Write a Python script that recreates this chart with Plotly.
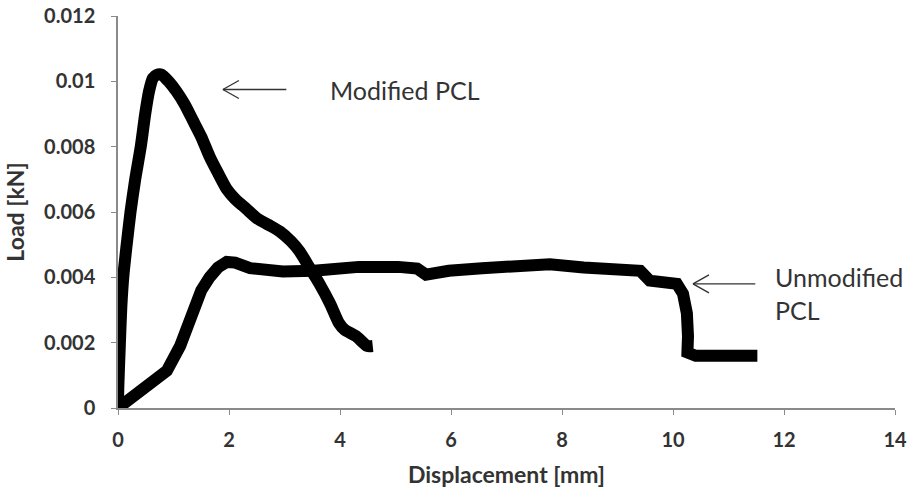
import plotly.graph_objects as go

# Modified PCL (displacement mm, load kN)
mod_x = [0.0, 0.005, 0.03, 0.06, 0.10, 0.15, 0.225, 0.31, 0.41, 0.49, 0.56, 0.63, 0.70, 0.79,
         0.91, 1.05, 1.20, 1.35, 1.50, 1.65, 1.80, 1.96, 2.11, 2.31, 2.51, 2.72, 2.92, 3.12,
         3.27, 3.45, 3.63, 3.82, 3.98, 4.08, 4.29, 4.49, 4.59]
mod_y = [0.0, 0.0006, 0.0018, 0.0031, 0.0041, 0.0049, 0.0060, 0.0070, 0.0080, 0.0090, 0.0097,
         0.0101, 0.0102, 0.0102, 0.0100, 0.0097, 0.0093, 0.0088, 0.0083, 0.0077, 0.0072,
         0.0067, 0.0064, 0.0061, 0.0058, 0.0056, 0.0054, 0.0051, 0.0048, 0.0043, 0.0038,
         0.0032, 0.0026, 0.0024, 0.0022, 0.0019, 0.0019]

# Unmodified PCL
unm_x = [0.0, 0.08, 0.45, 0.88, 1.12, 1.35, 1.50, 1.65, 1.80, 1.96, 2.11, 2.38, 2.97, 3.53,
         4.34, 5.05, 5.39, 5.55, 5.96, 6.56, 7.07, 7.78, 8.39, 9.10, 9.41, 9.58, 10.07, 10.18,
         10.25, 10.27, 10.26, 10.41, 11.12, 11.52]
unm_y = [0.0, 0.0001, 0.0005, 0.00114, 0.0019, 0.0031, 0.0036, 0.0040, 0.0043, 0.00447,
         0.00445, 0.00428, 0.00418, 0.0042, 0.00432, 0.00432, 0.00427, 0.00408, 0.0042,
         0.00428, 0.0043, 0.0044, 0.0043, 0.0042, 0.0042, 0.0039, 0.0038, 0.0035, 0.0029,
         0.0022, 0.0017, 0.0016, 0.00165, 0.0016]

x_ticks = [0, 2, 4, 6, 8, 10, 12, 14]
y_ticks = [0, 0.002, 0.004, 0.006, 0.008, 0.01, 0.012]
y_tick_labels = ["0", "0.002", "0.004", "0.006", "0.008", "0.01", "0.012"]

# annotation anchors (data units)
labels = ["Modified PCL", "Unmodified<br>PCL"]
label_x = [3.78, 11.80]
label_y = [0.00975, 0.0035]
arrow_tip_x = [1.89, 10.36]
arrow_tip_y = [0.00975, 0.0038]
arrow_tail_x = [3.06, 11.51]

FONT = "Lato"
TXT = "#333333"
AX = "#8a8a8a"

fig = go.Figure()
fig.add_trace(go.Scatter(x=mod_x, y=mod_y, mode="lines", name="Modified PCL",
                         line=dict(color="black", width=12, shape="spline", smoothing=0.6)))
fig.add_trace(go.Scatter(x=unm_x, y=unm_y, mode="lines", name="Unmodified PCL",
                         line=dict(color="black", width=12)))

for txt, lx, ly, tx, ty, sx in zip(labels, label_x, label_y, arrow_tip_x, arrow_tip_y, arrow_tail_x):
    fig.add_annotation(x=tx, y=ty, ax=sx, ay=ty, xref="x", yref="y", axref="x", ayref="y",
                       text="", showarrow=True, arrowhead=0, arrowwidth=1.4, arrowcolor="#333")
    for dy in (9, -9):
        fig.add_shape(type="line", xref="x", yref="y", xsizemode="pixel", ysizemode="pixel",
                      xanchor=tx, yanchor=ty, x0=0, y0=0, x1=16, y1=dy,
                      line=dict(color="#333", width=1.4))
    fig.add_annotation(x=lx, y=ly, xref="x", yref="y", text=txt, showarrow=False,
                       xanchor="left", yanchor="middle", align="left",
                       font=dict(family=FONT, size=25, color=TXT))

fig.update_layout(
    width=910, height=497,
    margin=dict(l=118, r=15, t=16, b=89),
    paper_bgcolor="white", plot_bgcolor="white",
    showlegend=False,
    font=dict(family=FONT, size=20, color=TXT),
    xaxis=dict(range=[0, 14], tickvals=x_ticks, showgrid=False, zeroline=False,
               showline=True, linecolor=AX, linewidth=1.5, automargin=False,
               ticks="outside", ticklen=5, tickcolor=AX, ticklabeloverflow="allow",
               ticklabelstandoff=8,
               tickfont=dict(family=FONT, size=20, color=TXT, weight=700),
               title=dict(text="<b>Displacement [mm]</b>",
                          font=dict(family=FONT, size=23, color=TXT), standoff=17)),
    yaxis=dict(range=[0, 0.012], tickvals=y_ticks, ticktext=y_tick_labels, showgrid=False,
               zeroline=False, showline=True, linecolor=AX, linewidth=1.5, automargin=False,
               ticks="outside", ticklen=5, tickcolor=AX, ticklabeloverflow="allow",
               ticklabelstandoff=12,
               tickfont=dict(family=FONT, size=20, color=TXT, weight=700),
               title=dict(text="<b>Load [kN]</b>",
                          font=dict(family=FONT, size=23, color=TXT), standoff=13)),
)

# remove the default page margin so the 910x497 figure fills the window exactly
fig.write_html("out.html", config={"displayModeBar": False},
               post_script="document.body.style.margin='0';")
